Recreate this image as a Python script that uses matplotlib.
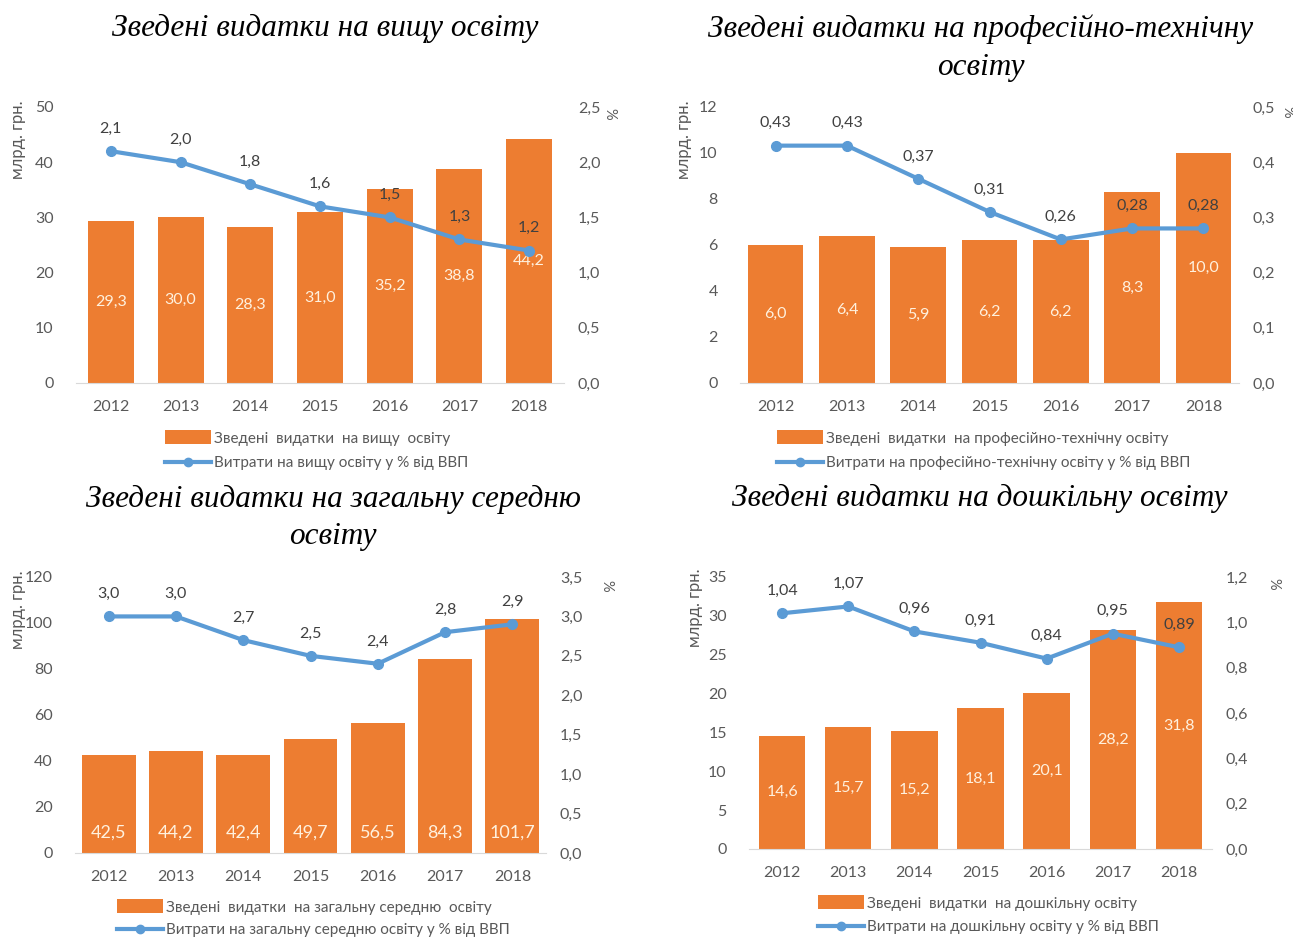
import matplotlib
matplotlib.use("Agg")
import matplotlib.pyplot as plt
from matplotlib.patches import Patch
from matplotlib.lines import Line2D
import numpy as np

years = ["2012", "2013", "2014", "2015", "2016", "2017", "2018"]

higher_spend = [29.3, 30.0, 28.3, 31.0, 35.2, 38.8, 44.2]
higher_gdp = [2.1, 2.0, 1.8, 1.6, 1.5, 1.3, 1.2]

voc_spend = [6.0, 6.4, 5.9, 6.2, 6.2, 8.3, 10.0]
voc_gdp = [0.43, 0.43, 0.37, 0.31, 0.26, 0.28, 0.28]

sec_spend = [42.5, 44.2, 42.4, 49.7, 56.5, 84.3, 101.7]
sec_gdp = [3.0, 3.0, 2.7, 2.5, 2.4, 2.8, 2.9]

pre_spend = [14.6, 15.7, 15.2, 18.1, 20.1, 28.2, 31.8]
pre_gdp = [1.04, 1.07, 0.96, 0.91, 0.84, 0.95, 0.89]

titles = [
    "Зведені видатки на вищу освіту",
    "Зведені видатки на професійно-технічну\nосвіту",
    "Зведені видатки на загальну середню\nосвіту",
    "Зведені видатки на дошкільну освіту",
]
bar_labels = [
    "Зведені  видатки  на вищу  освіту",
    "Зведені  видатки  на професійно-технічну освіту",
    "Зведені  видатки  на загальну середню  освіту",
    "Зведені  видатки  на дошкільну освіту",
]
line_labels = [
    "Витрати на вищу освіту у % від ВВП",
    "Витрати на професійно-технічну освіту у % від ВВП",
    "Витрати на загальну середню освіту у % від ВВП",
    "Витрати на дошкільну освіту у % від ВВП",
]
ylabel_left = "млрд. грн."
ylabel_right = "%"

ORANGE = "#ED7D31"
BLUE = "#5B9BD5"
GRAY = "#595959"
DARK = "#404040"
BARTXT = "#FFF1DE"

W, H = 1293, 940
fig = plt.figure(figsize=(W / 100, H / 100), dpi=100)
fig.patch.set_facecolor("white")

FONT = ["Lato", "DejaVu Sans"]
TFONT = ["Liberation Serif", "DejaVu Serif"]


def fx(px):
    return px / W


def fy(py):
    return 1 - py / H


panels = [
    dict(box=(76, 564, 107, 383), spend=higher_spend, gdp=higher_gdp,
         lmax=50, lstep=10, rmax=2.5, rstep=0.5, rdec=1, ldec=0, gdec=1,
         width=0.66, barpos="center",
         title_xy=(325, 28), pct_xy=(609, 114), ylab_xy=(18, 140),
         leg=(165, 438, 463)),
    dict(box=(740, 1239, 107, 383), spend=voc_spend, gdp=voc_gdp,
         lmax=12, lstep=2, rmax=0.5, rstep=0.1, rdec=1, ldec=0, gdec=2,
         width=0.78, barpos="center",
         title_xy=(981, 48), pct_xy=(1287, 112), ylab_xy=(684, 140),
         leg=(777, 438, 463)),
    dict(box=(75, 546, 577, 853), spend=sec_spend, gdp=sec_gdp,
         lmax=120, lstep=20, rmax=3.5, rstep=0.5, rdec=1, ldec=0, gdec=1,
         width=0.8, barpos="bottom",
         title_xy=(333, 518), pct_xy=(606, 586), ylab_xy=(18, 610),
         leg=(117, 907, 930)),
    dict(box=(749, 1212, 577, 849), spend=pre_spend, gdp=pre_gdp,
         lmax=35, lstep=5, rmax=1.2, rstep=0.2, rdec=1, ldec=0, gdec=2,
         width=0.7, barpos="center",
         title_xy=(980, 498), pct_xy=(1273, 584), ylab_xy=(695, 608),
         leg=(818, 903, 927)),
]


def fmt(v, d):
    return f"{v:.{d}f}".replace(".", ",")


for i, p in enumerate(panels):
    x0, x1, yt, yb = p["box"]
    ax = fig.add_axes([fx(x0), fy(yb), fx(x1 - x0), (yb - yt) / H])
    x = np.arange(len(years))
    ax.bar(x, p["spend"], width=p["width"], color=ORANGE, zorder=2)
    ax.set_xlim(-0.5, len(years) - 0.5)
    ax.set_ylim(0, p["lmax"])
    lt = np.arange(0, p["lmax"] + 1e-9, p["lstep"])
    ax.set_yticks(lt)
    ax.set_yticklabels([fmt(v, p["ldec"]) for v in lt])
    ax.set_xticks(x)
    ax.set_xticklabels(years)
    for s in ["top", "right", "left"]:
        ax.spines[s].set_visible(False)
    ax.spines["bottom"].set_color("#D9D9D9")
    ax.tick_params(axis="both", length=0, colors=GRAY, labelsize=11.5)
    ax.tick_params(axis="y", pad=16)
    ax.tick_params(axis="x", pad=12)
    for lab in ax.get_xticklabels() + ax.get_yticklabels():
        lab.set_family(FONT)

    for xi, v in zip(x, p["spend"]):
        if p["barpos"] == "center":
            ax.text(xi, v / 2, fmt(v, 1), ha="center", va="center",
                    color=BARTXT, fontsize=11.5, family=FONT, zorder=3)
        else:
            ax.annotate(fmt(v, 1), (xi, 0), xytext=(0, 15),
                        textcoords="offset points", ha="center", va="center",
                        color=BARTXT, fontsize=13, family=FONT, zorder=3)

    ax2 = ax.twinx()
    ax2.plot(x, p["gdp"], color=BLUE, lw=3, marker="o", ms=7, zorder=4)
    ax2.set_ylim(0, p["rmax"])
    rt = np.arange(0, p["rmax"] + 1e-9, p["rstep"])
    ax2.set_yticks(rt)
    ax2.set_yticklabels([fmt(v, p["rdec"]) for v in rt])
    for s in ["top", "right", "left", "bottom"]:
        ax2.spines[s].set_visible(False)
    ax2.tick_params(axis="y", length=0, colors=GRAY, labelsize=11.5, pad=10)
    for lab in ax2.get_yticklabels():
        lab.set_family(FONT)
    for xi, v in zip(x, p["gdp"]):
        ax2.annotate(fmt(v, p["gdec"]), (xi, v), xytext=(0, 11),
                     textcoords="offset points", ha="center", va="bottom",
                     color=DARK, fontsize=11.5, family=FONT, zorder=5)

    # titles and axis names
    fig.text(fx(p["title_xy"][0]), fy(p["title_xy"][1]), titles[i],
             ha="center", va="center", fontsize=22.5, style="italic",
             family=TFONT, color="black", linespacing=1.38)
    fig.text(fx(p["pct_xy"][0]), fy(p["pct_xy"][1]), ylabel_right,
             ha="center", va="center", rotation=-90, fontsize=10.5,
             color=GRAY, family=FONT)
    fig.text(fx(p["ylab_xy"][0]), fy(p["ylab_xy"][1]), ylabel_left,
             ha="center", va="center", rotation=90, fontsize=12,
             color=GRAY, family=FONT)

    # legend
    lx, ly1, ly2 = p["leg"]
    h1 = Patch(facecolor=ORANGE, edgecolor="none")
    h2 = Line2D([0], [0], color=BLUE, lw=3, marker="o", ms=6)
    fig.legend([h1], [bar_labels[i]], loc="center left",
               bbox_to_anchor=(fx(lx), fy(ly1)), bbox_transform=fig.transFigure,
               frameon=False, handlelength=3.0, handleheight=1.0,
               handletextpad=0.2, borderaxespad=0, borderpad=0,
               prop=dict(family=FONT, size=11), labelcolor=GRAY)
    fig.legend([h2], [line_labels[i]], loc="center left",
               bbox_to_anchor=(fx(lx), fy(ly2)), bbox_transform=fig.transFigure,
               frameon=False, handlelength=3.0, handletextpad=0.2,
               borderaxespad=0, borderpad=0,
               prop=dict(family=FONT, size=11), labelcolor=GRAY)

fig.savefig("out.png", dpi=100, facecolor="white")
